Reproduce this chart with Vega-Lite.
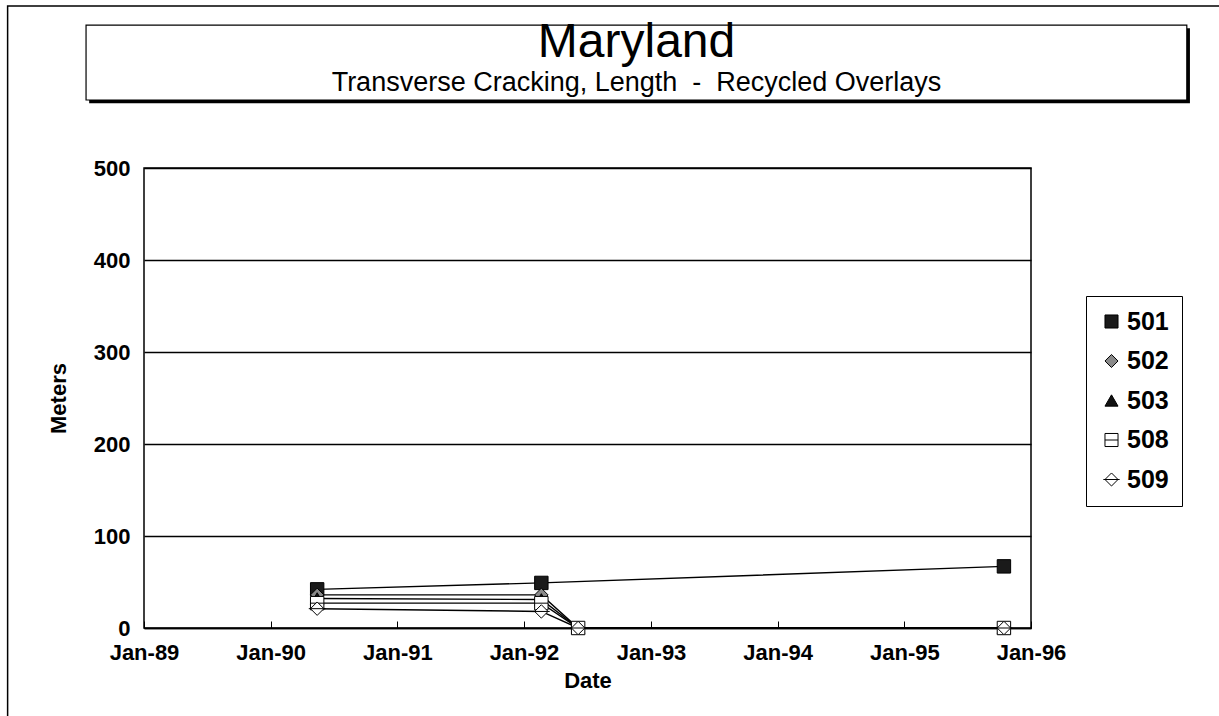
{
  "$schema": "https://vega.github.io/schema/vega-lite/v6.json",
  "width": 887,
  "height": 460,
  "autosize": {"type": "none"},
  "padding": {"left": 144, "top": 168, "right": 188, "bottom": 88},
  "background": "white",
  "config": {
    "font": "Liberation Sans",
    "view": {"stroke": "black", "strokeWidth": 1.5},
    "legend": {
      "symbolStrokeWidth": 1,
      "labelFontSize": 25,
      "labelFontWeight": "bold",
      "labelColor": "black",
      "labelFont": "Liberation Sans"
    }
  },
  "title": {
    "text": "Maryland",
    "subtitle": "Transverse Cracking, Length \u00a0-\u00a0 Recycled Overlays",
    "font": "Liberation Sans",
    "subtitleFont": "Liberation Sans",
    "fontSize": 48,
    "fontWeight": "normal",
    "color": "black",
    "subtitleFontSize": 27,
    "subtitleColor": "black",
    "subtitlePadding": 3,
    "anchor": "middle",
    "dx": 49,
    "offset": -91
  },
  "datasets": {
    "series": [
      {"section": "501", "date": "1990-05-15", "meters": 42},
      {"section": "501", "date": "1992-02-20", "meters": 49},
      {"section": "501", "date": "1995-10-15", "meters": 67},
      {"section": "502", "date": "1990-05-15", "meters": 36},
      {"section": "502", "date": "1992-02-20", "meters": 36},
      {"section": "502", "date": "1992-06-05", "meters": 0},
      {"section": "502", "date": "1995-10-15", "meters": 0},
      {"section": "503", "date": "1990-05-15", "meters": 32},
      {"section": "503", "date": "1992-02-20", "meters": 31},
      {"section": "503", "date": "1992-06-05", "meters": 0},
      {"section": "503", "date": "1995-10-15", "meters": 0},
      {"section": "508", "date": "1990-05-15", "meters": 27},
      {"section": "508", "date": "1992-02-20", "meters": 27},
      {"section": "508", "date": "1992-06-05", "meters": 0},
      {"section": "508", "date": "1995-10-15", "meters": 0},
      {"section": "509", "date": "1990-05-15", "meters": 21},
      {"section": "509", "date": "1992-02-20", "meters": 18},
      {"section": "509", "date": "1992-06-05", "meters": 0},
      {"section": "509", "date": "1995-10-15", "meters": 0}
    ]
  },
  "layer": [
    {
      "data": {"values": [{}]},
      "mark": {"type": "rect", "fill": null, "fillOpacity": 0, "stroke": "black", "strokeWidth": 1.5, "clip": false},
      "encoding": {
        "x": {"datum": {"year": 1987, "month": 12, "date": 5, "utc": true}, "type": "temporal"},
        "x2": {"datum": {"year": 1998, "month": 6, "date": 1, "utc": true}},
        "y": {"datum": 676, "type": "quantitative"},
        "y2": {"datum": -150}
      }
    },
    {
      "data": {"values": [{}]},
      "mark": {"type": "rect", "fill": "black", "clip": false},
      "encoding": {
        "x": {"datum": {"year": 1988, "month": 7, "date": 27, "utc": true}, "type": "temporal"},
        "x2": {"datum": {"year": 1997, "month": 4, "date": 3, "utc": true}},
        "y": {"datum": 652, "type": "quantitative"},
        "y2": {"datum": 570.5}
      }
    },
    {
      "data": {"values": [{}]},
      "mark": {"type": "rect", "fill": "white", "stroke": "black", "strokeWidth": 1.2, "clip": false},
      "encoding": {
        "x": {"datum": {"year": 1988, "month": 7, "date": 18, "utc": true}, "type": "temporal"},
        "x2": {"datum": {"year": 1997, "month": 3, "date": 25, "utc": true}},
        "y": {"datum": 655.4, "type": "quantitative"},
        "y2": {"datum": 573.9}
      }
    },
    {
      "data": {"name": "series"},
      "mark": {"type": "line", "color": "black", "strokeWidth": 1.4},
      "encoding": {
        "x": {
          "field": "date",
          "type": "temporal",
          "scale": {
            "type": "utc",
            "domain": [
              {"year": 1989, "month": 1, "date": 1, "utc": true},
              {"year": 1996, "month": 1, "date": 1, "utc": true}
            ]
          },
          "axis": {
            "title": "Date",
            "values": [
              {"year": 1989, "month": 1, "date": 1, "utc": true},
              {"year": 1990, "month": 1, "date": 1, "utc": true},
              {"year": 1991, "month": 1, "date": 1, "utc": true},
              {"year": 1992, "month": 1, "date": 1, "utc": true},
              {"year": 1993, "month": 1, "date": 1, "utc": true},
              {"year": 1994, "month": 1, "date": 1, "utc": true},
              {"year": 1995, "month": 1, "date": 1, "utc": true},
              {"year": 1996, "month": 1, "date": 1, "utc": true}
            ],
            "format": "%b-%y",
            "grid": false,
            "domainColor": "black",
            "domainWidth": 1.5,
            "tickColor": "black",
            "tickSize": -7,
            "labelFontSize": 22,
            "labelFontWeight": "bold",
            "labelColor": "black",
            "labelPadding": 21,
            "labelFlush": false,
            "labelOverlap": false,
            "titleFontSize": 22,
            "titleFontWeight": "bold",
            "titleColor": "black",
            "titlePadding": 7
          }
        },
        "y": {
          "field": "meters",
          "type": "quantitative",
          "scale": {"domain": [0, 500]},
          "axis": {
            "title": "Meters",
            "values": [0, 100, 200, 300, 400, 500],
            "grid": true,
            "gridColor": "black",
            "gridOpacity": 1,
            "gridWidth": 1.4,
            "domain": false,
            "ticks": false,
            "labelFontSize": 22,
            "labelFontWeight": "bold",
            "labelColor": "black",
            "labelPadding": 14,
            "labelFlush": false,
            "titleFontSize": 22,
            "titleFontWeight": "bold",
            "titleColor": "black",
            "titlePadding": 23
          }
        },
        "detail": {"field": "section"}
      }
    },
    {
      "data": {"name": "series"},
      "mark": {"type": "point", "filled": true, "strokeWidth": 1, "size": 180, "opacity": 1},
      "encoding": {
        "x": {"field": "date", "type": "temporal"},
        "y": {"field": "meters", "type": "quantitative"},
        "shape": {
          "field": "section",
          "type": "nominal",
          "scale": {
            "domain": ["501", "502", "503", "508", "509"],
            "range": ["square", "diamond", "triangle-up", "M-1,-1H1V1H-1Z M-1,0H1", "M0,-1L1,0L0,1L-1,0Z M-1.25,0H1.25"]
          },
          "legend": {
            "title": null,
            "orient": "none",
            "legendX": 942,
            "legendY": 128,
            "padding": 13,
            "rowPadding": 13.5,
            "labelOffset": 3,
            "symbolSize": 170,
            "strokeColor": "black",
            "fillColor": "white"
          }
        },
        "fill": {
          "field": "section",
          "type": "nominal",
          "scale": {
            "domain": ["501", "502", "503", "508", "509"],
            "range": ["#1a1a1a", "#8a8a8a", "#111111", "white", "white"]
          },
          "legend": {
            "title": null,
            "orient": "none",
            "legendX": 942,
            "legendY": 128,
            "padding": 13,
            "rowPadding": 13.5,
            "labelOffset": 3,
            "symbolSize": 170,
            "strokeColor": "black",
            "fillColor": "white"
          }
        },
        "stroke": {
          "field": "section",
          "type": "nominal",
          "scale": {
            "domain": ["501", "502", "503", "508", "509"],
            "range": ["black", "black", "black", "black", "black"]
          },
          "legend": {
            "title": null,
            "orient": "none",
            "legendX": 942,
            "legendY": 128,
            "padding": 13,
            "rowPadding": 13.5,
            "labelOffset": 3,
            "symbolSize": 170,
            "strokeColor": "black",
            "fillColor": "white"
          }
        }
      }
    }
  ]
}
